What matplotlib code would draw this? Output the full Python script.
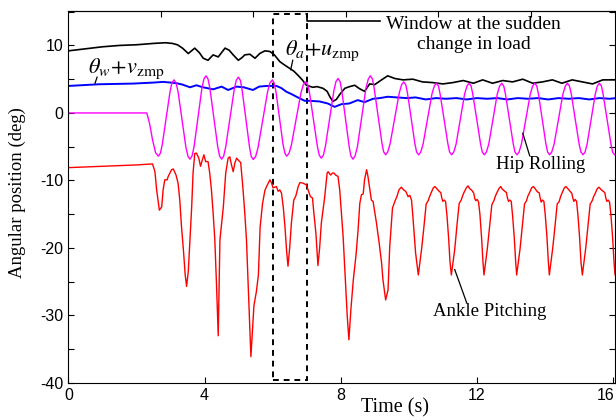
import matplotlib.pyplot as plt
import matplotlib.transforms as mtransforms
from matplotlib.patches import Rectangle

plt.rcParams['mathtext.fontset'] = 'stix'
plt.rcParams['axes.unicode_minus'] = False
SERIF = 'Liberation Serif'
SANS = 'Liberation Sans'

# theta_a + u_zmp (black)
az_t = [0, 0.5, 1.0, 1.5, 2.0, 2.5, 2.85, 3.05, 3.2, 3.35, 3.52, 3.71, 3.85, 3.96,
        4.1, 4.25, 4.4, 4.6, 4.72, 4.84, 4.99, 5.1, 5.18, 5.33, 5.48, 5.62, 5.77,
        5.92, 6.05, 6.21, 6.35, 6.5, 6.62, 6.74, 6.87, 6.99, 7.18, 7.3, 7.48, 7.6,
        7.68, 7.77, 7.87, 7.98, 8.12, 8.26, 8.41, 8.55, 8.7, 8.85, 9.0, 9.2, 9.38,
        9.59, 9.83, 10.12, 10.4, 10.7, 11.0, 11.3, 11.6, 11.9, 12.17, 12.46, 12.76,
        13.05, 13.35, 13.64, 13.93, 14.22, 14.5, 14.8, 15.1, 15.4, 15.7, 16.1]
az_v = [9.2, 9.5, 9.8, 10.0, 10.1, 10.3, 10.4, 10.3, 10.1, 9.6, 8.8, 9.6, 8.9, 8.1,
        7.8, 8.6, 8.3, 9.6, 9.3, 8.6, 7.8, 8.2, 8.6, 8.7, 8.1, 8.8, 9.2,
        9.1, 8.6, 7.6, 7.1, 6.6, 6.2, 5.6, 4.9, 4.1, 3.8, 3.9, 3.65, 3.2,
        2.4, 1.7, 2.0, 2.8, 3.65, 3.9, 4.1, 3.6, 3.2, 4.3, 4.2, 4.9, 5.5,
        5.1, 4.9, 5.0, 4.6, 4.5, 4.3, 4.5, 4.8, 4.4, 4.9, 4.4, 4.8,
        4.6, 5.0, 4.4, 4.6, 4.9, 4.4, 4.9, 4.6, 4.3, 4.9, 4.9]

# theta_w + v_zmp (blue)
wz_t = [0, 0.9, 1.9, 2.5, 2.78, 3.0, 3.18, 3.35, 3.57, 3.76, 3.95, 4.25, 4.5, 4.69,
        4.94, 5.15, 5.42, 5.6, 5.82, 6.11, 6.25, 6.4, 6.55, 6.7, 6.94, 7.09, 7.38,
        7.62, 7.82, 8.02, 8.25, 8.5, 8.7, 8.95, 9.15, 9.38, 9.65, 9.94, 10.2, 10.5,
        10.8, 11.1, 11.4, 11.7, 12.0, 12.3, 12.6, 12.9, 13.2, 13.5, 13.8, 14.1,
        14.4, 14.7, 15.0, 15.3, 15.6, 15.9, 16.1]
wz_v = [4.0, 4.25, 4.35, 4.5, 4.6, 4.5, 4.4, 4.2, 3.8, 4.1, 3.8, 3.5, 3.9, 3.4,
        3.9, 3.8, 3.4, 3.9, 4.0, 4.0, 3.7, 3.15, 2.8, 2.4, 1.8, 1.8, 1.7,
        1.4, 0.9, 1.3, 1.4, 1.9, 1.6, 2.1, 2.2, 2.4, 2.3, 2.2, 2.3, 2.0,
        2.2, 2.1, 2.2, 2.0, 2.2, 2.1, 2.2, 2.0, 2.2, 2.1, 2.2, 2.0,
        2.2, 2.1, 2.2, 2.0, 2.2, 2.1, 2.2]

# hip rolling (magenta), one row per half swing
hip_t = [0, 2.30, 2.38, 2.47, 2.56, 2.64,
         2.70, 2.755, 2.87, 2.985, 3.04, 3.10,
         3.16, 3.22, 3.335, 3.45, 3.51, 3.57,
         3.63, 3.69, 3.805, 3.92, 3.98, 4.04,
         4.10, 4.155, 4.27, 4.385, 4.44, 4.50,
         4.56, 4.62, 4.745, 4.87, 4.93, 4.99,
         5.05, 5.10, 5.21, 5.32, 5.37, 5.43,
         5.50, 5.57, 5.71, 5.85, 5.92, 5.99,
         6.04, 6.095, 6.20, 6.305, 6.36, 6.41,
         6.48, 6.55, 6.69, 6.83, 6.90, 6.97,
         7.03, 7.085, 7.20, 7.315, 7.37, 7.43,
         7.49, 7.55, 7.675, 7.80, 7.86, 7.92,
         7.98, 8.03, 8.14, 8.25, 8.30, 8.36,
         8.42, 8.49, 8.615, 8.74, 8.81, 8.87,
         8.93, 8.98, 9.095, 9.21, 9.26, 9.32,
         9.38, 9.45, 9.585, 9.72, 9.79, 9.85,
         9.91, 9.96, 10.07, 10.18, 10.23, 10.29,
         10.35, 10.42, 10.55, 10.68, 10.75, 10.81,
         10.87, 10.92, 11.035, 11.15, 11.20, 11.26,
         11.32, 11.39, 11.515, 11.64, 11.71, 11.77,
         11.83, 11.88, 11.995, 12.11, 12.16, 12.22,
         12.28, 12.35, 12.475, 12.60, 12.67, 12.73,
         12.79, 12.84, 12.955, 13.07, 13.12, 13.18,
         13.24, 13.31, 13.44, 13.57, 13.64, 13.70,
         13.76, 13.81, 13.92, 14.03, 14.08, 14.14,
         14.20, 14.27, 14.40, 14.53, 14.60, 14.66,
         14.72, 14.775, 14.89, 15.005, 15.06, 15.12,
         15.18, 15.24, 15.36, 15.48, 15.54, 15.60,
         15.66, 15.71, 15.825, 15.94, 15.99, 16.05]
hip_v = [0, 0, -1.5, -4.0, -5.9, -6.4,
         -5.97, -4.7, -0.75, 3.2, 4.47, 4.9,
         4.45, 3.14, -0.98, -5.09, -6.4, -6.85,
         -6.38, -5.0, -0.68, 3.65, 5.03, 5.5,
         5.03, 3.65, -0.68, -5.0, -6.38, -6.85,
         -6.39, -5.03, -0.78, 3.48, 4.84, 5.3,
         4.84, 3.47, -0.8, -5.07, -6.44, -6.9,
         -6.45, -5.13, -1.0, 3.13, 4.45, 4.9,
         4.47, 3.2, -0.75, -4.7, -5.97, -6.4,
         -5.98, -4.75, -0.9, 2.95, 4.18, 4.6,
         4.17, 2.9, -1.05, -5.0, -6.27, -6.7,
         -6.25, -4.93, -0.8, 3.33, 4.65, 5.1,
         4.65, 3.31, -0.88, -5.06, -6.4, -6.85,
         -6.38, -5.0, -0.68, 3.65, 5.03, 5.5,
         5.05, 3.75, -0.35, -4.45, -5.75, -6.2,
         -5.79, -4.58, -0.8, 2.98, 4.19, 4.6,
         4.19, 2.98, -0.8, -4.58, -5.79, -6.2,
         -5.8, -4.61, -0.9, 2.81, 4.0, 4.4,
         4.0, 2.81, -0.9, -4.61, -5.8, -6.2,
         -5.8, -4.61, -0.9, 2.81, 4.0, 4.4,
         4.0, 2.81, -0.9, -4.61, -5.8, -6.2,
         -5.8, -4.61, -0.9, 2.81, 4.0, 4.4,
         4.0, 2.81, -0.9, -4.61, -5.8, -6.2,
         -5.8, -4.61, -0.9, 2.81, 4.0, 4.4,
         4.0, 2.81, -0.9, -4.61, -5.8, -6.2,
         -5.8, -4.61, -0.9, 2.81, 4.0, 4.4,
         4.0, 2.81, -0.9, -4.61, -5.8, -6.2,
         -5.8, -4.61, -0.9, 2.81, 4.0, 4.4,
         4.0, 2.81, -0.9, -4.61, -5.8, -6.2]

# ankle pitching (red)
ank_t = [0, 0.5, 1.0, 1.5, 2.0, 2.47, 2.54, 2.59, 2.67, 2.74, 2.78, 2.83, 2.9, 2.93,
         3.03, 3.08, 3.16, 3.22, 3.27, 3.32, 3.38, 3.43, 3.47, 3.52, 3.57, 3.62,
         3.66, 3.71, 3.76, 3.83, 3.88, 3.93, 3.98, 4.03, 4.1, 4.15, 4.2, 4.25,
         4.3, 4.35, 4.40, 4.45, 4.55, 4.62, 4.69, 4.74, 4.79, 4.84, 4.89, 4.94,
         5.0, 5.06, 5.13, 5.18, 5.23, 5.3, 5.36, 5.45, 5.52, 5.58, 5.63, 5.7,
         5.77, 5.82, 5.92, 5.97, 6.01, 6.11, 6.16, 6.21, 6.26, 6.31, 6.36, 6.41,
         6.45, 6.5, 6.55, 6.62, 6.68, 6.75, 6.8, 6.89, 6.99, 7.04, 7.11, 7.17,
         7.21, 7.27, 7.33, 7.38, 7.43, 7.53, 7.6, 7.63, 7.7, 7.76, 7.8, 7.85,
         7.92, 7.97, 8.02, 8.07, 8.13, 8.19, 8.24, 8.30, 8.37, 8.45, 8.51, 8.56,
         8.61, 8.66, 8.7, 8.76, 8.8, 8.85, 8.9, 8.95, 9.05, 9.13, 9.2, 9.24,
         9.32, 9.39, 9.44, 9.52, 9.59, 9.65, 9.71, 9.78, 9.85, 9.91, 9.98, 10.03,
         10.08, 10.12, 10.2,
         10.28, 10.38, 10.45, 10.51, 10.57, 10.61, 10.65, 10.72, 10.77, 10.82,
         10.89, 10.94, 10.97, 11.00, 11.04, 11.08, 11.12, 11.17, 11.21,
         11.25, 11.35, 11.42, 11.48, 11.54, 11.58, 11.62, 11.69, 11.74, 11.79,
         11.86, 11.91, 11.94, 11.97, 12.01, 12.05, 12.09, 12.14, 12.18,
         12.21, 12.31, 12.38, 12.44, 12.50, 12.54, 12.58, 12.65, 12.70, 12.75,
         12.82, 12.87, 12.90, 12.93, 12.97, 13.01, 13.05, 13.10, 13.14,
         13.17, 13.27, 13.34, 13.40, 13.46, 13.50, 13.54, 13.61, 13.66, 13.71,
         13.78, 13.83, 13.86, 13.89, 13.93, 13.97, 14.01, 14.06, 14.10,
         14.13, 14.23, 14.30, 14.36, 14.42, 14.46, 14.50, 14.57, 14.62, 14.67,
         14.74, 14.79, 14.82, 14.85, 14.89, 14.93, 14.97, 15.02, 15.06,
         15.10, 15.20, 15.27, 15.33, 15.39, 15.43, 15.47, 15.54, 15.59, 15.64,
         15.71, 15.76, 15.79, 15.82, 15.86, 15.90, 15.94, 15.99, 16.03,
         16.06, 16.12]
ank_v = [-8.1, -8.0, -7.9, -7.8, -7.7, -7.55, -8.7, -11.4, -14.4, -13.9, -11.4, -9.9, -9.9, -9.4,
         -8.4, -8.3, -9.2, -10.4, -12.9, -16.8, -20.5, -24.0, -25.7, -23.5, -18.8, -13.9,
         -8.9, -6.0, -5.95, -6.7, -7.9, -7.0, -6.2, -7.2, -7.2, -8.9, -11.4, -14.8,
         -18.8, -25.5, -33.0, -18.8, -13.9, -8.9, -6.7, -6.5, -7.7, -8.7, -7.4, -6.7,
         -7.05, -7.35, -11.4, -14.8, -18.8, -28.0, -36.1, -28.5, -26.5, -24.0, -17.0, -13.5,
         -11.5, -10.9, -9.9, -10.4, -11.1, -10.9, -11.6, -11.4, -11.9, -13.9, -16.8, -20.5,
         -22.7, -20.0, -16.3, -12.9, -12.3, -10.9, -10.3, -10.4, -10.65, -11.4, -12.4, -12.6,
         -14.8, -17.8, -22.6, -20.0, -16.3, -12.4, -8.9, -8.7, -9.2, -8.9, -8.9, -9.2,
         -9.4, -11.4, -14.8, -18.3, -24.0, -30.0, -33.6, -29.0, -24.7, -21.0, -17.3, -13.4,
         -12.1, -12.0, -9.9, -8.4, -9.4, -11.1, -12.9, -13.1, -16.3, -19.3, -22.2, -24.7,
         -27.7, -26.2, -19.8, -14.1, -13.1, -12.4, -11.4, -11.0, -11.4, -11.6, -12.4, -12.2,
         -12.9, -15.3, -20.75,
         -24.0, -20.0, -16.6, -13.5, -13.0, -12.4, -11.9, -11.1, -10.9, -11.2,
         -11.6, -11.8, -12.6, -13.1, -12.9, -13.1, -15.1, -18.5, -22.0,
         -24.0, -20.2, -16.4, -13.4, -12.9, -12.3, -11.8, -11.1, -10.8, -11.2,
         -11.5, -11.9, -12.7, -13.0, -12.8, -13.2, -15.0, -18.6, -22.1,
         -24.0, -20.0, -16.5, -13.6, -13.0, -12.4, -11.9, -11.2, -10.9, -11.3,
         -11.6, -11.8, -12.6, -13.1, -12.9, -13.1, -15.2, -18.5, -22.0,
         -24.0, -20.1, -16.6, -13.5, -13.0, -12.3, -11.9, -11.1, -10.9, -11.2,
         -11.7, -11.8, -12.6, -13.2, -12.9, -13.1, -15.1, -18.4, -22.0,
         -24.0, -20.0, -16.6, -13.5, -13.1, -12.4, -11.9, -11.1, -10.9, -11.2,
         -11.6, -11.9, -12.6, -13.1, -12.8, -13.1, -15.1, -18.5, -22.1,
         -24.0, -20.0, -16.5, -13.5, -13.0, -12.4, -12.0, -11.2, -11.0, -11.3,
         -11.6, -11.8, -12.6, -13.1, -12.9, -13.2, -15.1, -18.5, -22.0,
         -24.0, -20.5]

x_ticks = [0, 4, 8, 12, 16]
y_ticks = [-40, -30, -20, -10, 0, 10]

fig = plt.figure(figsize=(6.16, 4.2), dpi=100)
ax = fig.add_axes([0.1112, 0.0881, 0.8872, 0.8857])

ax.plot(az_t, az_v, color='black', lw=1.2)
ax.plot(wz_t, wz_v, color='#0000ff', lw=1.4)
ax.plot(ank_t, ank_v, color='#ff0000', lw=1.0)
ax.plot(hip_t, hip_v, color='#ff00ff', lw=1.0)

# dashed window around the load change
ax.add_patch(Rectangle((6.0, -39.5), 1.0, 54.2, fill=False, ec='black',
                       lw=1.4, ls=(0, (3, 2.5))))
ax.plot([7.0, 7.0, 9.15], [14.7, 13.6, 13.6], color='black', lw=1.2)
ax.text(11.9, 11.6, 'Window at the sudden\nchange in load', ha='center', va='center',
        family=SERIF, fontsize=14, linespacing=1.25)

# curve labels with leader lines
ax.text(0.57, 5.9, r'$\theta_w\!+\!v_{\mathrm{zmp}}$', fontsize=16, va='baseline')
ax.plot([0.84, 0.78], [5.3, 4.4], color='black', lw=0.9)
ax.text(6.36, 8.6, r'$\theta_a\!+\!u_{\mathrm{zmp}}$', fontsize=16, va='baseline')
ax.plot([6.59, 6.53], [7.8, 6.4], color='black', lw=0.9)
ax.text(13.87, -7.7, 'Hip Rolling', ha='center', va='center', family=SERIF, fontsize=13.5)
ax.plot([13.35, 13.55], [-3.0, -6.3], color='black', lw=0.9)
ax.text(12.38, -29.4, 'Ankle Pitching', ha='center', va='center', family=SERIF, fontsize=13.5)
ax.plot([11.35, 11.7], [-23.2, -28.1], color='black', lw=0.9)

ax.set_xlim(0, 16.06)
ax.set_ylim(-40, 15.1)
ax.set_xticks(x_ticks)
ax.set_yticks(y_ticks)
ax.set_yticks(range(-35, 16, 10), minor=True)
ax.tick_params(axis='both', which='both', direction='in', length=4, width=0.8,
               labelsize=11.5, top=False, right=True)
ax.tick_params(axis='y', which='minor', labelleft=False)
for lbl in ax.get_xticklabels() + ax.get_yticklabels():
    lbl.set_family(SANS)
# keep the last time label inside the canvas
last = ax.get_xticklabels()[-1]
last.set_transform(last.get_transform() +
                   mtransforms.ScaledTranslation(-5 / 72, 0, fig.dpi_scale_trans))

top = ax.secondary_xaxis('top')
top.set_xticks([2.72, 5.43, 8.15, 10.86, 13.58], labels=[])
top.tick_params(direction='in', length=4, width=0.8)

ax.set_xlabel('Time (s)', family=SERIF, fontsize=14.5)
ax.xaxis.set_label_coords(0.597, -0.068)
ax.xaxis.label.set_va('center')
ax.set_ylabel('Angular position (deg)', family=SERIF, fontsize=13.5)
ax.yaxis.set_label_coords(-0.093, 0.513)
ax.yaxis.label.set_va('center')

fig.savefig('out.png', dpi=100)
